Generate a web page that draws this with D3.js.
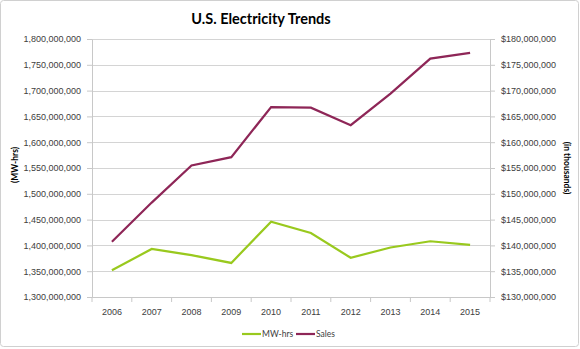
<!DOCTYPE html>
<html><head><meta charset="utf-8">
<script src="https://cdn.jsdelivr.net/npm/d3@7"></script>
<style>
html,body{margin:0;padding:0;background:#fff;}
svg{display:block;font-family:Lato,"Open Sans",sans-serif;}
</style></head>
<body>
<script>
const years = ["2006","2007","2008","2009","2010","2011","2012","2013","2014","2015"];
const mwhrs = [1352e6,1393e6,1381e6,1366e6,1446e6,1424e6,1376e6,1396e6,1408e6,1401e6];
const sales = [140.7e6,148.3e6,155.5e6,157.1e6,166.8e6,166.7e6,163.3e6,169.4e6,176.2e6,177.3e6];
const leftTicks = [1300e6,1350e6,1400e6,1450e6,1500e6,1550e6,1600e6,1650e6,1700e6,1750e6,1800e6];
const rightTicks = [130e6,135e6,140e6,145e6,150e6,155e6,160e6,165e6,170e6,175e6,180e6];
const seriesNames = ["MW-hrs","Sales"];
const colors = ["#99c91e","#8e2657"];

const W=580,H=349;
const m={l:92,r:90,t:39,b:52};
const svg=d3.select("body").append("svg").attr("width",W).attr("height",H);
svg.append("rect").attr("x",0.5).attr("y",0.5).attr("width",W-2).attr("height",H-3)
  .attr("fill","#fff").attr("stroke","#d0d0d0").attr("rx",3);

const x=d3.scaleBand().domain(years).range([m.l,W-m.r]);
const yL=d3.scaleLinear().domain([1300e6,1800e6]).range([H-m.b,m.t]);
const yR=d3.scaleLinear().domain([130e6,180e6]).range([H-m.b,m.t]);
const fmt=d3.format(",");

// gridlines
svg.append("g").selectAll("line").data(leftTicks).join("line")
  .attr("x1",m.l).attr("x2",W-m.r).attr("y1",d=>Math.round(yL(d))+0.5).attr("y2",d=>Math.round(yL(d))+0.5)
  .attr("stroke","#d4d4d4").attr("stroke-width",1);

const axL=svg.append("g").attr("transform",`translate(${m.l},0)`)
  .call(d3.axisLeft(yL).tickValues(leftTicks).tickFormat(fmt).tickSize(5).tickSizeOuter(0));
const axR=svg.append("g").attr("transform",`translate(${W-m.r},0)`)
  .call(d3.axisRight(yR).tickValues(rightTicks).tickFormat(d=>"$"+fmt(d)).tickSize(5).tickSizeOuter(0));
const axB=svg.append("g").attr("transform",`translate(0,${H-m.b})`)
  .call(d3.axisBottom(x).tickSize(0).tickSizeOuter(0));
// category boundary ticks
svg.append("g").selectAll("line").data(years.concat(["end"])).join("line")
  .attr("x1",(d,i)=>m.l+i*x.step()).attr("x2",(d,i)=>m.l+i*x.step())
  .attr("y1",H-m.b).attr("y2",H-m.b+5).attr("stroke","#c8c8c8");
[axL,axR,axB].forEach(a=>{
  a.selectAll("path").attr("stroke","#c8c8c8");
  a.selectAll("line").attr("stroke","#c8c8c8");
  a.selectAll("text").attr("fill","#404040").attr("font-size","9px");
});
axL.selectAll("text").attr("dx","-3");
axR.selectAll("text").attr("dx","3");
axB.selectAll("text").attr("dy","1.7em");

// lines
const lineL=d3.line().x((d,i)=>x(years[i])+x.bandwidth()/2).y(d=>yL(d));
const lineR=d3.line().x((d,i)=>x(years[i])+x.bandwidth()/2).y(d=>yR(d));
svg.append("path").datum(mwhrs).attr("d",lineL).attr("fill","none").attr("stroke",colors[0]).attr("stroke-width",2.2);
svg.append("path").datum(sales).attr("d",lineR).attr("fill","none").attr("stroke",colors[1]).attr("stroke-width",2.2);

// title
svg.append("text").attr("x",261).attr("y",24).attr("text-anchor","middle")
  .attr("font-size","14.5px").attr("font-weight","bold").attr("fill","#000").text("U.S. Electricity Trends");
// axis titles
svg.append("text").attr("transform","translate(18,165) rotate(-90)").attr("text-anchor","middle")
  .attr("font-size","8.5px").attr("font-weight","bold").attr("fill","#000").text("(MW-hrs)");
svg.append("text").attr("transform","translate(564,168) rotate(90)").attr("text-anchor","middle")
  .attr("font-size","8.5px").attr("font-weight","bold").attr("fill","#000").text("(in thousands)");

// legend
const lg=[{x:242,lbl:seriesNames[0],c:colors[0]},{x:296,lbl:seriesNames[1],c:colors[1]}];
lg.forEach(d=>{
  svg.append("line").attr("x1",d.x).attr("x2",d.x+19).attr("y1",334).attr("y2",334).attr("stroke",d.c).attr("stroke-width",2.2);
  svg.append("text").attr("x",d.x+20).attr("y",337).attr("font-size","8.5px").attr("fill","#404040").text(d.lbl);
});
</script>
</body></html>
